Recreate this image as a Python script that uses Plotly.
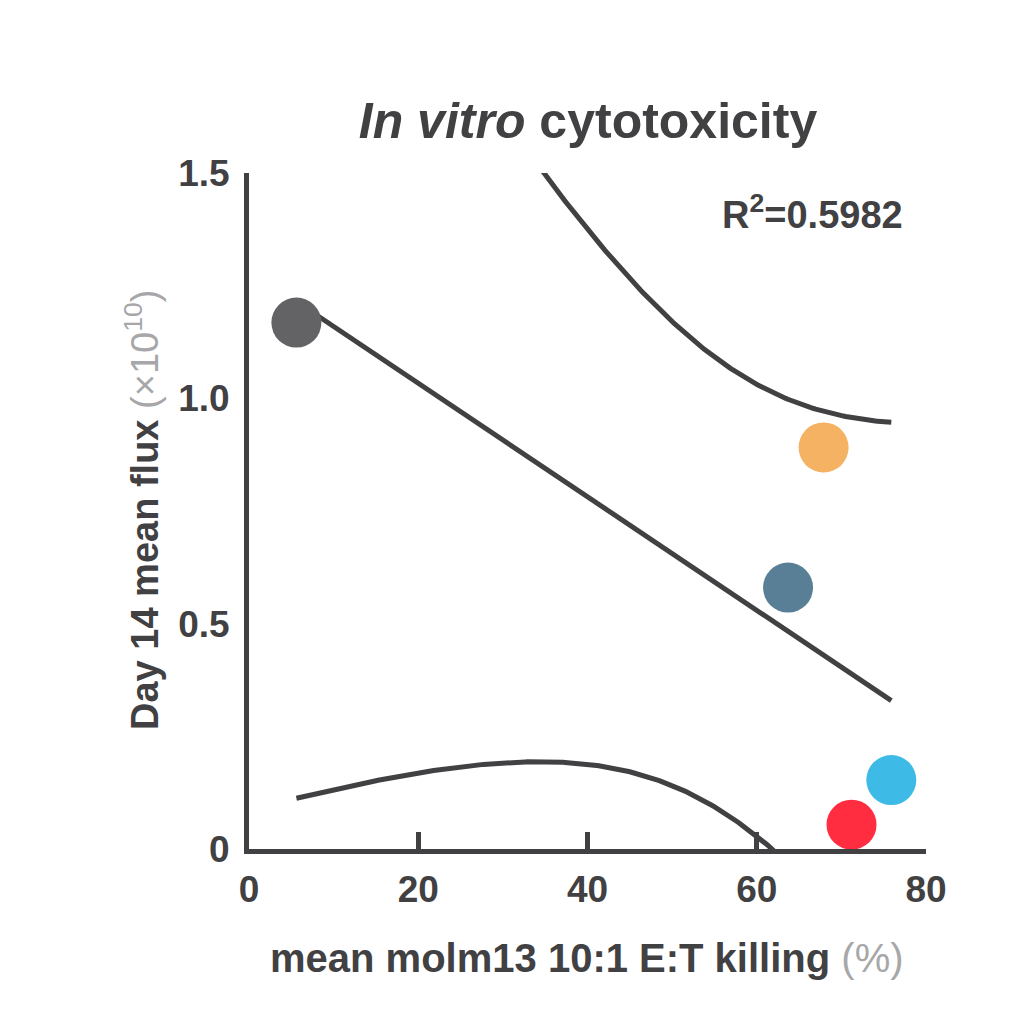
import numpy as np
import plotly.graph_objects as go

# ---- data ----
killing_pct = [5.6, 67.9, 63.7, 75.9, 71.2]          # mean molm13 10:1 E:T killing (%)
flux_e10 = [1.168, 0.891, 0.580, 0.153, 0.054]       # Day 14 mean flux (x10^10)
point_colors = ["#636366", "#F5B263", "#587F95", "#3DBBE6", "#FF2D3F"]
x_ticks = [0, 20, 40, 60, 80]
y_ticks = [0, 0.5, 1.0, 1.5]
y_tick_labels = ["0", "0.5", "1.0", "1.5"]
r2_label = "0.5982"
T_975_DF3 = 3.182  # Student t quantile, 95% two-sided, df = n - 2 = 3

INK = "#414042"
GREY = "#A7A7A9"

# ---- linear fit with 95% confidence band ----
x = np.array(killing_pct)
y = np.array(flux_e10)
n = len(x)
slope, intercept = np.polyfit(x, y, 1)
resid = y - (slope * x + intercept)
s = np.sqrt(np.sum(resid ** 2) / (n - 2))
sxx = np.sum((x - x.mean()) ** 2)
xf = np.linspace(x.min(), x.max(), 300)
yf = slope * xf + intercept
se = s * np.sqrt(1.0 / n + (xf - x.mean()) ** 2 / sxx)
upper = yf + T_975_DF3 * se
lower = yf - T_975_DF3 * se

fig = go.Figure()
line_style = dict(color=INK, width=5)
fig.add_trace(go.Scatter(x=xf, y=upper, mode="lines", line=line_style, hoverinfo="skip"))
fig.add_trace(go.Scatter(x=xf, y=lower, mode="lines", line=line_style, hoverinfo="skip"))
fig.add_trace(go.Scatter(x=xf, y=yf, mode="lines", line=line_style, hoverinfo="skip"))
fig.add_trace(go.Scatter(
    x=killing_pct, y=flux_e10, mode="markers",
    marker=dict(size=50, color=point_colors, line=dict(width=0), opacity=1),
    cliponaxis=False,
))

OFF = 8  # page body margin
L, R, T, B = 241, 106, 165, 183
W = 1024 - L - R
H = 1024 - T - B


def px_x(px):
    return (px - OFF - L) / W


def px_y(py):
    return 1 - (py - OFF - T) / H


fig.update_layout(
    width=1024, height=1024,
    margin=dict(l=L, r=R, t=T, b=B, pad=0),
    paper_bgcolor="white", plot_bgcolor="white",
    showlegend=False,
    font=dict(family="Liberation Sans, Arial, sans-serif", color=INK),
    xaxis=dict(
        range=[0, 80], tickvals=x_ticks, ticktext=[str(v) for v in x_ticks],
        showgrid=False, zeroline=False, showline=True, linecolor=INK, linewidth=5,
        ticks="", ticklabelstandoff=4,
        tickfont=dict(size=37, weight="bold", color=INK),
        minor=dict(tickvals=[20, 40, 60], ticks="inside", ticklen=17, tickwidth=5, tickcolor=INK, showgrid=False),
        layer="above traces",
    ),
    yaxis=dict(
        range=[0, 1.5], tickvals=y_ticks, ticktext=y_tick_labels,
        showgrid=False, zeroline=False, showline=True, linecolor=INK, linewidth=5,
        ticks="", ticklabelstandoff=7,
        tickfont=dict(size=37, weight="bold", color=INK),
        layer="above traces",
    ),
    title=dict(
        text="<i>In vitro</i> cytotoxicity",
        x=(588 - OFF) / 1024, xanchor="center", y=1 - (120 - OFF) / 1024, yanchor="middle",
        font=dict(size=50, weight="bold", color=INK),
    ),
)

fig.add_annotation(
    text="<b>Day 14 mean flux</b> <span style='color:%s'>(×10<sup>10</sup>)</span>" % GREY,
    xref="paper", yref="paper", x=px_x(142), y=px_y(510),
    xanchor="center", yanchor="middle", textangle=-90, showarrow=False,
    font=dict(size=38, color=INK),
)
fig.add_annotation(
    text="<b>mean molm13 10:1 E:T killing</b> <span style='color:%s'>(%%)</span>" % GREY,
    xref="paper", yref="paper", x=px_x(587), y=px_y(958),
    xanchor="center", yanchor="middle", showarrow=False,
    font=dict(size=40, color=INK),
)
fig.add_annotation(
    text="<b>R<sup>2</sup>=%s</b>" % r2_label,
    xref="paper", yref="paper", x=px_x(905), y=px_y(212),
    xanchor="right", yanchor="middle", showarrow=False,
    font=dict(size=38, color=INK),
)

fig.write_html("out.html")
